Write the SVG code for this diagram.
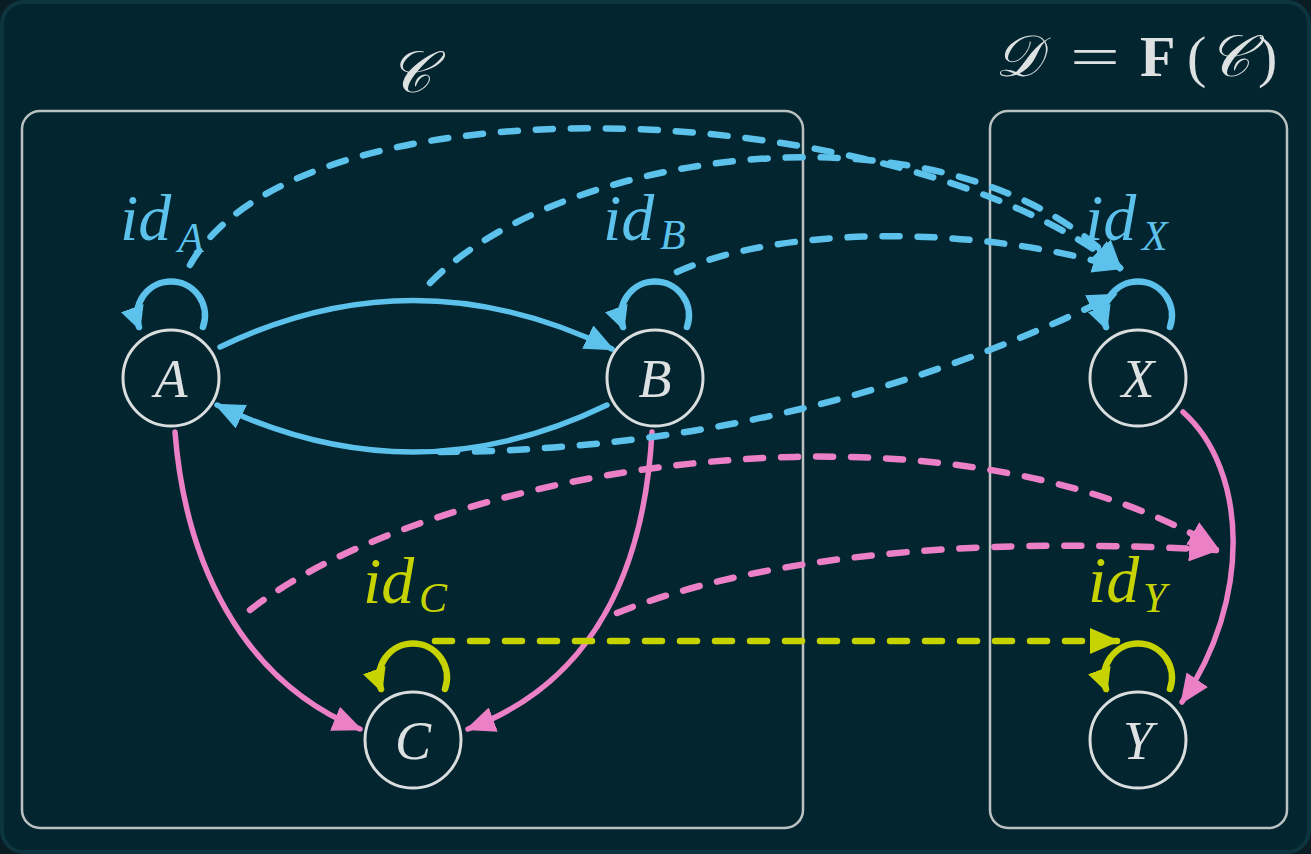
<svg xmlns="http://www.w3.org/2000/svg" width="1311" height="854" viewBox="0 0 1311 854">
<style>
.frame{fill:#03252f;stroke:#0c3540;stroke-width:4}
.box{fill:none;stroke:#b9c1c1;stroke-width:2.5}
.node circle{fill:#03252f;stroke:#d9dddd;stroke-width:3}
.lbl{font-family:"Liberation Serif","DejaVu Serif",serif;font-style:italic;fill:#dde1e1}
.title{font-family:"Liberation Serif","DejaVu Serif",serif;fill:#dde1e1}
.e{fill:none;stroke-linecap:round}
.blue{stroke:#5cc2ec}
.pink{stroke:#ec80c6}
.yel{stroke:#c7d300}
.solid{stroke-width:5.5}
.loop{stroke-width:6.5}
.dash{stroke-width:6.5;stroke-dasharray:17 18}
.idt{font-family:"Liberation Serif","DejaVu Serif",serif;font-style:italic}
.tb{fill:#5cc2ec}
.ty{fill:#c7d300}
</style>
<defs>
<marker id="ab" markerUnits="userSpaceOnUse" viewBox="0 0 30 26" markerWidth="30" markerHeight="26" refX="27" refY="13" orient="auto"><path d="M0,0 L30,13 L0,26 z" fill="#5cc2ec"/></marker>
<marker id="ap" markerUnits="userSpaceOnUse" viewBox="0 0 30 26" markerWidth="30" markerHeight="26" refX="27" refY="13" orient="auto"><path d="M0,0 L30,13 L0,26 z" fill="#ec80c6"/></marker>
<marker id="ay" markerUnits="userSpaceOnUse" viewBox="0 0 30 26" markerWidth="30" markerHeight="26" refX="27" refY="13" orient="auto"><path d="M0,0 L30,13 L0,26 z" fill="#c7d300"/></marker>
<marker id="lb" markerUnits="userSpaceOnUse" viewBox="0 0 24 24" markerWidth="24" markerHeight="24" refX="20" refY="12" orient="auto"><path d="M0,0 L24,12 L0,24 z" fill="#5cc2ec"/></marker>
<marker id="ly" markerUnits="userSpaceOnUse" viewBox="0 0 24 24" markerWidth="24" markerHeight="24" refX="20" refY="12" orient="auto"><path d="M0,0 L24,12 L0,24 z" fill="#c7d300"/></marker>
</defs>
<rect x="0" y="0" width="1311" height="854" fill="#0a1d24"/>
<rect class="frame" x="2" y="2" width="1307" height="850" rx="22"/>

<g id="titles">
<text class="title" x="410" y="92" font-size="58" text-anchor="middle" font-style="italic">𝒞</text>
<text class="title" y="76" font-size="58"><tspan x="995" font-style="italic">𝒟</tspan></text>
<text class="title" x="1070" y="76" font-size="58" textLength="50" lengthAdjust="spacingAndGlyphs">=</text>
<text class="title" y="76" font-size="58"><tspan x="1140" font-weight="bold">F</tspan><tspan x="1187">(</tspan><tspan x="1208" font-style="italic">𝒞</tspan><tspan x="1258">)</tspan></text>
</g>

<g id="category-C"><rect class="box" x="22" y="111" width="781" height="717" rx="18"/></g>
<g id="category-D"><rect class="box" x="990" y="111" width="297" height="717" rx="18"/></g>

<g id="connectors">
<!-- solid morphisms in C -->
<path class="e blue solid" d="M220,347 Q415,253 612,349" marker-end="url(#ab)"/>
<path class="e blue solid" d="M607,405 Q413,499 217,405" marker-end="url(#ab)"/>
<path class="e pink solid" d="M175,432 C185,560 240,680 360,729" marker-end="url(#ap)"/>
<path class="e pink solid" d="M652,432 C645,560 600,680 468,729" marker-end="url(#ap)"/>
<path class="e pink solid" d="M1183,412 C1248,470 1252,600 1182,702" marker-end="url(#ap)"/>
<!-- identity loops -->
<path class="e blue loop" d="M203,327 A34,34 0 1 0 139,327" marker-end="url(#lb)"/>
<path class="e blue loop" d="M687,327 A34,34 0 1 0 623,327" marker-end="url(#lb)"/>
<path class="e blue loop" d="M1170,327 A34,34 0 1 0 1106,327" marker-end="url(#lb)"/>
<path class="e yel loop" d="M445,689 A34,34 0 1 0 381,689" marker-end="url(#ly)"/>
<path class="e yel loop" d="M1170,689 A34,34 0 1 0 1106,689" marker-end="url(#ly)"/>
<!-- functor mappings -->
<path class="e blue dash" d="M190,265 C300,70 900,95 1120,268" marker-end="url(#ab)"/>
<path class="e blue dash" d="M430,283 C560,150 950,90 1120,268" marker-end="url(#ab)"/>
<path class="e blue dash" d="M677,272 C780,225 980,225 1120,268" marker-end="url(#ab)"/>
<path class="e blue dash" d="M440,452 Q800,450 1115,295" marker-end="url(#ab)"/>
<path class="e pink dash" d="M250,610 C430,470 930,380 1216,547" marker-end="url(#ap)"/>
<path class="e pink dash" d="M617,613 C750,560 950,535 1216,550" marker-end="url(#ap)"/>
<path class="e yel dash" d="M435,641 L1117,641" marker-end="url(#ay)"/>
<!-- identity labels -->
<text class="idt tb" x="120" y="240" font-size="66">id</text><text class="idt tb" x="178" y="252" font-size="42">A</text>
<text class="idt tb" x="603" y="240" font-size="66">id</text><text class="idt tb" x="660" y="249" font-size="42">B</text>
<text class="idt tb" x="1085" y="240" font-size="66">id</text><text class="idt tb" x="1142" y="250" font-size="42">X</text>
<text class="idt ty" x="363" y="603" font-size="66">id</text><text class="idt ty" x="419" y="612" font-size="42">C</text>
<text class="idt ty" x="1088" y="602" font-size="66">id</text><text class="idt ty" x="1143" y="612" font-size="42">Y</text>
</g>

<g id="node-A" class="node"><circle cx="171" cy="378" r="48"/><text class="lbl" x="171" y="397" font-size="54" text-anchor="middle">A</text></g>
<g id="node-B" class="node"><circle cx="655" cy="378" r="48"/><text class="lbl" x="655" y="397" font-size="54" text-anchor="middle">B</text></g>
<g id="node-X" class="node"><circle cx="1138" cy="378" r="48"/><text class="lbl" x="1138" y="397" font-size="54" text-anchor="middle">X</text></g>
<g id="node-C" class="node"><circle cx="413" cy="740" r="48"/><text class="lbl" x="413" y="759" font-size="54" text-anchor="middle">C</text></g>
<g id="node-Y" class="node"><circle cx="1138" cy="740" r="48"/><text class="lbl" x="1138" y="759" font-size="54" text-anchor="middle">Y</text></g>
</svg>
